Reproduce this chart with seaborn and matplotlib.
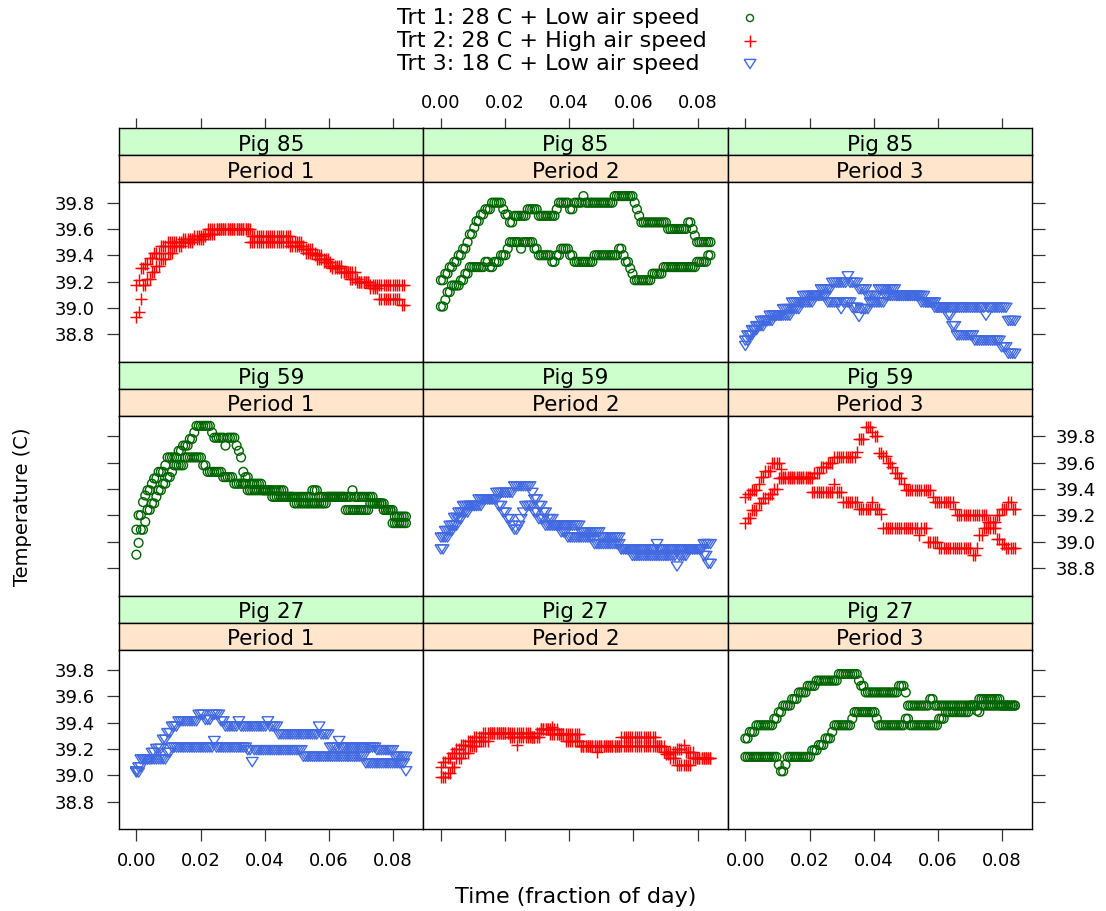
import numpy as np
import pandas as pd
import matplotlib
matplotlib.use("Agg")
import matplotlib.pyplot as plt
import seaborn as sns

# ---------------------------------------------------------------------------
# Rectal temperature (C), one reading per minute, written as runs of
# (temperature, number of consecutive minutes at that reading).
# Two recording sessions per pig and period.
# ---------------------------------------------------------------------------

# Pig 85
pig85_per1_a = [(39.17, 1), (39.21, 1), (39.30, 2), (39.33, 2), (39.38, 2), (39.42, 3), (39.47, 3),
                (39.50, 12), (39.55, 6), (39.60, 20), (39.55, 18), (39.50, 5), (39.45, 5), (39.40, 4),
                (39.35, 4), (39.30, 4), (39.27, 4), (39.22, 4), (39.20, 5), (39.17, 16)]
pig85_per1_b = [(38.93, 1), (38.97, 1), (39.07, 1), (39.17, 2), (39.22, 2), (39.27, 2), (39.32, 2),
                (39.37, 3), (39.42, 3), (39.47, 4), (39.52, 10), (39.56, 5), (39.60, 15), (39.50, 18),
                (39.47, 7), (39.42, 5), (39.37, 6), (39.32, 6), (39.27, 6), (39.20, 6), (39.15, 4),
                (39.07, 10), (39.02, 2)]

pig85_per2_a = [(39.21, 2), (39.26, 2), (39.31, 2), (39.35, 2), (39.40, 2), (39.45, 2), (39.50, 1),
                (39.56, 2), (39.61, 1), (39.66, 2), (39.71, 2), (39.75, 3), (39.80, 5), (39.75, 1),
                (39.71, 2), (39.65, 2), (39.70, 6), (39.75, 5), (39.70, 8), (39.75, 1), (39.80, 5),
                (39.75, 2), (39.80, 4), (39.85, 1), (39.80, 13), (39.85, 9), (39.80, 1), (39.75, 1),
                (39.70, 1), (39.65, 12), (39.60, 9), (39.65, 2), (39.60, 1), (39.55, 1), (39.50, 7)]
pig85_per2_b = [(39.01, 2), (39.06, 1), (39.12, 2), (39.17, 4), (39.21, 2), (39.26, 2), (39.31, 7),
                (39.35, 2), (39.31, 2), (39.35, 3), (39.40, 3), (39.45, 1), (39.50, 5), (39.45, 1),
                (39.50, 5), (39.45, 2), (39.40, 6), (39.35, 2), (39.40, 2), (39.45, 4), (39.40, 2),
                (39.35, 9), (39.40, 11), (39.45, 2), (39.40, 1), (39.35, 2), (39.30, 1), (39.26, 1),
                (39.21, 8), (39.26, 5), (39.31, 15), (39.35, 5), (39.40, 2)]

pig85_per3_a = [(38.75, 1), (38.79, 2), (38.83, 2), (38.86, 2), (38.90, 4), (38.94, 6), (38.99, 4),
                (39.04, 5), (39.09, 8), (39.14, 5), (39.19, 7), (39.24, 1), (39.19, 4), (39.14, 4),
                (39.09, 5), (39.14, 8), (39.09, 13), (39.04, 5), (39.00, 22), (38.94, 1), (39.00, 9),
                (38.90, 4)]
pig85_per3_b = [(38.71, 1), (38.75, 1), (38.79, 2), (38.83, 2), (38.86, 3), (38.90, 4), (38.94, 8),
                (38.99, 4), (39.04, 6), (39.09, 6), (39.04, 6), (38.99, 1), (39.04, 4), (39.00, 3),
                (38.93, 1), (38.99, 4), (39.04, 7), (39.09, 16), (39.04, 6), (39.00, 6), (38.94, 2),
                (38.86, 2), (38.79, 8), (38.75, 12), (38.70, 3), (38.65, 4)]

# Pig 59
pig59_per1_a = [(39.09, 1), (39.20, 2), (39.30, 1), (39.35, 1), (39.39, 2), (39.44, 1), (39.48, 2),
                (39.53, 3), (39.58, 1), (39.64, 5), (39.69, 2), (39.73, 3), (39.78, 2), (39.83, 1),
                (39.88, 7), (39.83, 1), (39.79, 5), (39.73, 1), (39.79, 4), (39.73, 1), (39.69, 1),
                (39.64, 1), (39.53, 1), (39.49, 2), (39.44, 6), (39.39, 10), (39.34, 12), (39.39, 3),
                (39.34, 15), (39.39, 1), (39.34, 9), (39.29, 5), (39.24, 4), (39.19, 6)]
pig59_per1_b = [(38.90, 1), (38.99, 1), (39.09, 2), (39.15, 1), (39.24, 2), (39.29, 2), (39.34, 1),
                (39.39, 2), (39.44, 2), (39.49, 2), (39.53, 1), (39.58, 5), (39.64, 8), (39.58, 2),
                (39.53, 7), (39.49, 5), (39.44, 6), (39.39, 11), (39.34, 10), (39.29, 15), (39.34, 8),
                (39.24, 11), (39.29, 6), (39.24, 4), (39.14, 7)]

pig59_per2_a = [(39.03, 2), (39.08, 2), (39.12, 2), (39.18, 2), (39.22, 2), (39.27, 7), (39.32, 8),
                (39.37, 8), (39.42, 8), (39.37, 1), (39.32, 2), (39.27, 2), (39.22, 2), (39.17, 3),
                (39.12, 12), (39.07, 9), (39.03, 9), (38.94, 16), (38.98, 1), (38.94, 20), (38.98, 4)]
pig59_per2_b = [(38.94, 2), (39.03, 2), (39.08, 2), (39.12, 2), (39.17, 2), (39.22, 3), (39.27, 6),
                (39.32, 7), (39.27, 2), (39.22, 2), (39.17, 2), (39.12, 1), (39.09, 2), (39.12, 1),
                (39.17, 1), (39.22, 1), (39.27, 4), (39.22, 2), (39.17, 3), (39.12, 7), (39.07, 3),
                (39.03, 12), (38.98, 12), (38.94, 5), (38.89, 20), (38.81, 1), (38.89, 4), (38.94, 7),
                (38.89, 2), (38.83, 2)]

pig59_per3_a = [(39.34, 1), (39.36, 2), (39.39, 3), (39.44, 1), (39.49, 2), (39.54, 3), (39.60, 4),
                (39.55, 1), (39.49, 13), (39.38, 10), (39.44, 1), (39.38, 3), (39.30, 7), (39.25, 6),
                (39.30, 1), (39.25, 3), (39.21, 1), (39.10, 16), (39.05, 1), (39.10, 3), (39.00, 5),
                (38.95, 15), (38.90, 2), (38.95, 1), (39.05, 2), (39.10, 3), (39.15, 3), (39.20, 2),
                (39.25, 3), (39.30, 2), (39.25, 2)]
pig59_per3_b = [(39.14, 1), (39.18, 2), (39.24, 3), (39.29, 2), (39.33, 3), (39.36, 2), (39.40, 2),
                (39.48, 16), (39.52, 3), (39.57, 3), (39.60, 3), (39.64, 10), (39.68, 1), (39.78, 3),
                (39.87, 3), (39.83, 1), (39.80, 2), (39.67, 2), (39.65, 2), (39.60, 2), (39.57, 1),
                (39.52, 2), (39.48, 2), (39.44, 1), (39.39, 12), (39.34, 1), (39.30, 9), (39.25, 1),
                (39.20, 14), (39.15, 1), (39.10, 3), (39.02, 2), (38.98, 2), (38.95, 5)]

# Pig 27
pig27_per1_a = [(39.03, 1), (39.06, 1), (39.12, 5), (39.17, 2), (39.20, 3), (39.27, 2), (39.32, 2),
                (39.37, 3), (39.41, 9), (39.46, 3), (39.42, 3), (39.46, 4), (39.41, 2), (39.37, 6),
                (39.41, 1), (39.37, 12), (39.41, 1), (39.37, 4), (39.31, 18), (39.37, 1), (39.31, 4),
                (39.21, 4), (39.26, 1), (39.21, 16), (39.19, 8), (39.14, 6)]
pig27_per1_b = [(39.02, 2), (39.06, 1), (39.12, 11), (39.17, 2), (39.21, 19), (39.26, 1), (39.21, 14),
                (39.19, 2), (39.10, 1), (39.19, 22), (39.14, 28), (39.09, 18), (39.03, 1)]

pig27_per2_a = [(39.06, 1), (39.10, 2), (39.13, 2), (39.17, 2), (39.20, 2), (39.23, 3), (39.26, 3),
                (39.29, 4), (39.32, 12), (39.29, 3), (39.23, 1), (39.29, 8), (39.32, 2), (39.35, 5),
                (39.37, 1), (39.35, 2), (39.31, 10), (39.22, 18), (39.29, 16), (39.22, 4), (39.16, 2),
                (39.13, 3), (39.08, 7), (39.13, 9)]
pig27_per2_b = [(38.99, 3), (39.02, 2), (39.06, 2), (39.13, 3), (39.17, 3), (39.22, 4), (39.26, 5),
                (39.32, 19), (39.29, 4), (39.35, 4), (39.31, 7), (39.26, 7), (39.22, 7), (39.18, 1),
                (39.22, 29), (39.18, 6), (39.20, 3), (39.23, 1), (39.18, 4), (39.13, 8)]

pig27_per3_a = [(39.28, 2), (39.33, 3), (39.38, 8), (39.43, 2), (39.48, 2), (39.53, 4), (39.58, 3),
                (39.63, 4), (39.68, 4), (39.72, 10), (39.77, 9), (39.72, 1), (39.68, 2), (39.63, 15),
                (39.68, 3), (39.63, 1), (39.53, 10), (39.58, 2), (39.53, 19), (39.49, 1), (39.58, 10),
                (39.53, 7)]
pig27_per3_b = [(39.14, 15), (39.08, 1), (39.03, 2), (39.08, 1), (39.14, 11), (39.19, 3), (39.23, 3),
                (39.28, 3), (39.33, 1), (39.38, 8), (39.43, 1), (39.48, 10), (39.43, 1), (39.38, 12),
                (39.43, 2), (39.38, 13), (39.43, 3), (39.48, 11), (39.53, 4), (39.48, 1), (39.53, 16)]

pigs = ["Pig 85", "Pig 59", "Pig 27"]
periods = ["Period 1", "Period 2", "Period 3"]
treatments = ["Trt 1: 28 C + Low air speed",
              "Trt 2: 28 C + High air speed",
              "Trt 3: 18 C + Low air speed"]

# treatment index (0, 1, 2) given to each pig in each period
trt_design = [[1, 0, 2],
              [0, 2, 1],
              [2, 1, 0]]

sessions = [[(pig85_per1_a, pig85_per1_b), (pig85_per2_a, pig85_per2_b), (pig85_per3_a, pig85_per3_b)],
            [(pig59_per1_a, pig59_per1_b), (pig59_per2_a, pig59_per2_b), (pig59_per3_a, pig59_per3_b)],
            [(pig27_per1_a, pig27_per1_b), (pig27_per2_a, pig27_per2_b), (pig27_per3_a, pig27_per3_b)]]

x_ticks = [0.00, 0.02, 0.04, 0.06, 0.08]
y_ticks = [38.8, 39.0, 39.2, 39.4, 39.6, 39.8]


def runs_to_frame(runs, label):
    temps = np.repeat([v for v, _ in runs], [n for _, n in runs])
    minutes = np.arange(len(temps))
    return pd.DataFrame({"time": minutes / 1440.0, "temp": temps, "session": label})


# ---------------------------------------------------------------------------
# styling
# ---------------------------------------------------------------------------
sns.set_style("white")
plt.rcParams["font.family"] = ["DejaVu Sans"]
plt.rcParams["text.color"] = "black"

tri_down = [(-1.0, 0.78), (1.0, 0.78), (0.0, -0.78), (-1.0, 0.78)]
trt_style = [
    dict(marker="o", s=40, color="#006400", facecolor="none", edgecolor="#006400", linewidth=1.0),
    dict(marker="+", s=75, color="#FF0000", linewidth=1.05),
    dict(marker=tri_down, s=72, color="#4169E1", facecolor="none", edgecolor="#4169E1", linewidth=1.0),
]
strip_colors = ["#CCFFCC", "#FFE5CC"]
edge = "#000000"
tick_col = "#333333"

W, H = 1106, 911
fig = plt.figure(figsize=(W / 100, H / 100), dpi=100)


def rect(x0, y0, x1, y1):
    return [x0 / W, 1 - y1 / H, (x1 - x0) / W, (y1 - y0) / H]


col_left = [118.7, 423.2, 727.7]
col_w = 304.5
row_top = [128.3, 362.0, 595.7]
strip_h = 27.0
plot_h = 179.7

xlim = (-0.0055, 0.0894)
ylim = (38.588, 39.955)

for r in range(3):
    for c in range(3):
        x0 = col_left[c]
        x1 = x0 + col_w
        top = row_top[r]

        # strips: pig (outer) above period (inner)
        for k, (txt, fc) in enumerate([(pigs[r], strip_colors[0]), (periods[c], strip_colors[1])]):
            sax = fig.add_axes(rect(x0, top + k * strip_h, x1, top + (k + 1) * strip_h))
            sax.set_facecolor(fc)
            sax.set_xticks([])
            sax.set_yticks([])
            for sp in sax.spines.values():
                sp.set_color(edge)
                sp.set_linewidth(1.0)
            sax.text(0.5, 0.17, txt, transform=sax.transAxes, ha="center", va="baseline",
                     fontsize=15.5, color="black")

        ax = fig.add_axes(rect(x0, top + 2 * strip_h, x1, top + 2 * strip_h + plot_h))
        trt = trt_design[r][c]
        a_runs, b_runs = sessions[r][c]
        df = pd.concat([runs_to_frame(a_runs, "a"), runs_to_frame(b_runs, "b")], ignore_index=True)
        sns.scatterplot(data=df, x="time", y="temp", ax=ax, legend=False, **trt_style[trt])

        ax.set_xlim(*xlim)
        ax.set_ylim(*ylim)
        ax.set_xlabel("")
        ax.set_ylabel("")
        ax.set_xticks(x_ticks)
        ax.set_yticks(y_ticks)
        ax.set_xticklabels([f"{v:.2f}" for v in x_ticks])
        ax.set_yticklabels([f"{v:.1f}" for v in y_ticks])
        for sp in ax.spines.values():
            sp.set_color(edge)
            sp.set_linewidth(1.0)

        ax.tick_params(axis="x", direction="out", length=8.5, width=0.9, color=tick_col,
                       labelcolor="black", labelsize=13, pad=7.5, top=False, labeltop=False,
                       bottom=(r == 2), labelbottom=(r == 2 and c != 1))
        ax.tick_params(axis="y", direction="out", length=9, width=0.9, color=tick_col,
                       labelcolor="black", labelsize=13, pad=8,
                       left=(c == 0), labelleft=(c == 0 and r != 1),
                       right=(c == 2), labelright=(c == 2 and r == 1))

        if r == 0:
            # tick marks above the top strips
            tax = fig.add_axes(rect(x0, top, x1, top + 2 * strip_h + plot_h), frameon=False)
            tax.set_xlim(*xlim)
            tax.set_ylim(0, 1)
            tax.patch.set_alpha(0)
            tax.set_yticks([])
            tax.set_xticks(x_ticks)
            tax.set_xticklabels([f"{v:.2f}" for v in x_ticks] if c == 1 else [])
            tax.tick_params(axis="x", direction="out", length=7.5, width=0.9, color=tick_col,
                            labelcolor="black", labelsize=13, pad=4, bottom=False,
                            labelbottom=False, top=True, labeltop=(c == 1))

# legend (key) above the panels
key_ax = fig.add_axes([0, 0, 1, 1], frameon=False)
key_ax.set_xlim(0, W)
key_ax.set_ylim(H, 0)
key_ax.set_xticks([])
key_ax.set_yticks([])
key_ax.patch.set_alpha(0)
key_y = [18, 41, 64]
for i, label in enumerate(treatments):
    key_ax.text(397, key_y[i], label, ha="left", va="center", fontsize=16, color="black")
    st = dict(trt_style[i])
    if i == 0:
        st["s"] = 26
    sns.scatterplot(x=[750], y=[key_y[i]], ax=key_ax, legend=False, **st)
key_ax.set_xlim(0, W)
key_ax.set_ylim(H, 0)
key_ax.set_xlabel("")
key_ax.set_ylabel("")

fig.text(575.5 / W, 1 - 897 / H, "Time (fraction of day)", ha="center", va="center",
         fontsize=16, color="black")
fig.text(23 / W, 1 - 507 / H, "Temperature (C)", ha="center", va="center", rotation=90,
         fontsize=14, color="black")

fig.savefig("out.png", dpi=100)
